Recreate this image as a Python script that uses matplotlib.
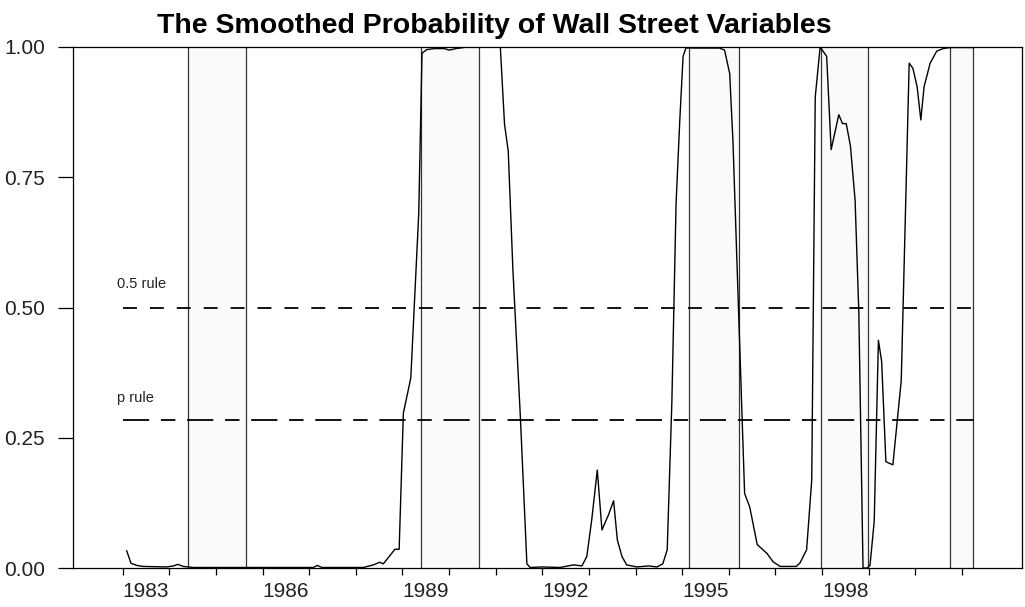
import numpy as np
import matplotlib
matplotlib.use("Agg")
import matplotlib.pyplot as plt
from matplotlib.ticker import FixedLocator, FixedFormatter

plt.rcParams['font.family'] = ['Liberation Sans', 'DejaVu Sans']

# smoothed probability, (decimal year, prob)
years = [1983.086, 1983.178, 1983.30, 1983.44, 1983.94, 1984.09, 1984.18, 1984.30,
         1984.51, 1985.50, 1986.50, 1987.09, 1987.175, 1987.27, 1988.16, 1988.38,
         1988.51, 1988.59, 1988.84, 1988.93, 1989.02, 1989.18, 1989.35, 1989.42,
         1989.52, 1989.70, 1989.90, 1990.00, 1990.15, 1990.40, 1991.10, 1991.19,
         1991.27, 1991.37, 1991.53, 1991.67, 1991.74, 1992.00, 1992.38, 1992.67,
         1992.85, 1992.955, 1993.06, 1993.18, 1993.28, 1993.42, 1993.53, 1993.61,
         1993.71, 1993.81, 1994.03, 1994.28, 1994.46, 1994.585, 1994.68, 1994.78,
         1994.87, 1994.95, 1995.02, 1995.08, 1995.80, 1995.91, 1996.02, 1996.09,
         1996.34, 1996.45, 1996.61, 1996.82, 1996.95, 1997.10, 1997.45, 1997.53,
         1997.67, 1997.78, 1997.855, 1997.96, 1998.10, 1998.196, 1998.36, 1998.44,
         1998.52, 1998.61, 1998.71, 1998.79, 1998.88, 1998.97, 1999.03, 1999.12,
         1999.21, 1999.28, 1999.37, 1999.52, 1999.70, 1999.87, 1999.95, 2000.04,
         2000.12, 2000.19, 2000.32, 2000.46, 2000.60, 2000.75, 2001.25]
prob = [0.033, 0.009, 0.005, 0.003, 0.002, 0.004, 0.007, 0.003,
        0.001, 0.001, 0.001, 0.001, 0.005, 0.001, 0.001, 0.006,
        0.011, 0.008, 0.036, 0.036, 0.297, 0.365, 0.68, 0.988,
        0.995, 0.997, 0.997, 0.994, 0.997, 1.0, 1.0, 0.852,
        0.80, 0.572, 0.29, 0.008, 0.001, 0.002, 0.001, 0.006,
        0.004, 0.022, 0.092, 0.188, 0.073, 0.102, 0.129, 0.054,
        0.022, 0.006, 0.002, 0.004, 0.002, 0.008, 0.035, 0.32,
        0.70, 0.86, 0.982, 0.998, 0.998, 0.994, 0.949, 0.819,
        0.143, 0.117, 0.045, 0.028, 0.012, 0.003, 0.003, 0.01,
        0.035, 0.169, 0.904, 1.0, 0.982, 0.803, 0.87, 0.853,
        0.853, 0.81, 0.706, 0.49, 0.0, 0.0, 0.005, 0.09,
        0.437, 0.396, 0.204, 0.198, 0.36, 0.969, 0.959, 0.924,
        0.86, 0.924, 0.969, 0.992, 0.997, 0.999, 0.999]

# recession periods (start, end)
rec_start = [1984.395, 1989.394, 1995.139, 1997.971, 2000.739]
rec_end = [1985.639, 1990.651, 1996.222, 1998.997, 2001.246]

half_rule = 0.5
p_rule = 0.284
rule_span = (1983.0, 2001.25)

tick_years = list(range(1983, 2002))
label_years = [1983, 1986, 1989, 1992, 1995, 1998]

fig = plt.figure(figsize=(10.25, 6.07), dpi=100)
ax = fig.add_axes([73/1025, 39/607, 949/1025, 521/607])

for s, e in zip(rec_start, rec_end):
    ax.axvspan(s, e, color='#fafafa', lw=0, zorder=0)
    ax.axvline(s, color='#333333', lw=0.9, zorder=1)
    ax.axvline(e, color='#333333', lw=0.9, zorder=1)

l1, = ax.plot(rule_span, [half_rule, half_rule], color='black', lw=1.3, zorder=2)
l1.set_dashes([7.7, 7.2])
l2, = ax.plot(rule_span, [p_rule, p_rule], color='black', lw=1.3, zorder=2)
l2.set_dashes([14.5, 6.5, 8, 6.5])

ax.plot(years, prob, color='black', lw=1.0, zorder=3)

ax.text(1982.88, 0.545, '0.5 rule', fontsize=10.5, va='center', ha='left', color='#222222')
ax.text(1982.88, 0.326, 'p rule', fontsize=10.5, va='center', ha='left', color='#222222')

ax.set_xlim(1981.934, 2002.29)
ax.set_ylim(0, 1)

ax.xaxis.set_major_locator(FixedLocator(tick_years))
ax.xaxis.set_major_formatter(FixedFormatter([''] * len(tick_years)))
ax.xaxis.set_minor_locator(FixedLocator([y + 0.5 for y in label_years]))
ax.xaxis.set_minor_formatter(FixedFormatter([str(y) for y in label_years]))
ax.tick_params(axis='x', which='major', length=5, width=0.9, direction='out')
ax.tick_params(axis='x', which='minor', length=0, pad=10, labelsize=15, labelcolor='#222222')

ax.set_yticks([0, 0.25, 0.5, 0.75, 1.0])
ax.set_yticklabels(['0.00', '0.25', '0.50', '0.75', '1.00'])
ax.tick_params(axis='y', length=11, width=0.9, direction='out', pad=9,
               labelsize=15, labelcolor='#222222')

for sp in ax.spines.values():
    sp.set_linewidth(0.9)

fig.text(494/1025, 1 - 33/607, 'The Smoothed Probability of Wall Street Variables',
         ha='center', va='baseline', fontsize=20.5, fontweight='bold')

fig.savefig('out.png', dpi=100)
